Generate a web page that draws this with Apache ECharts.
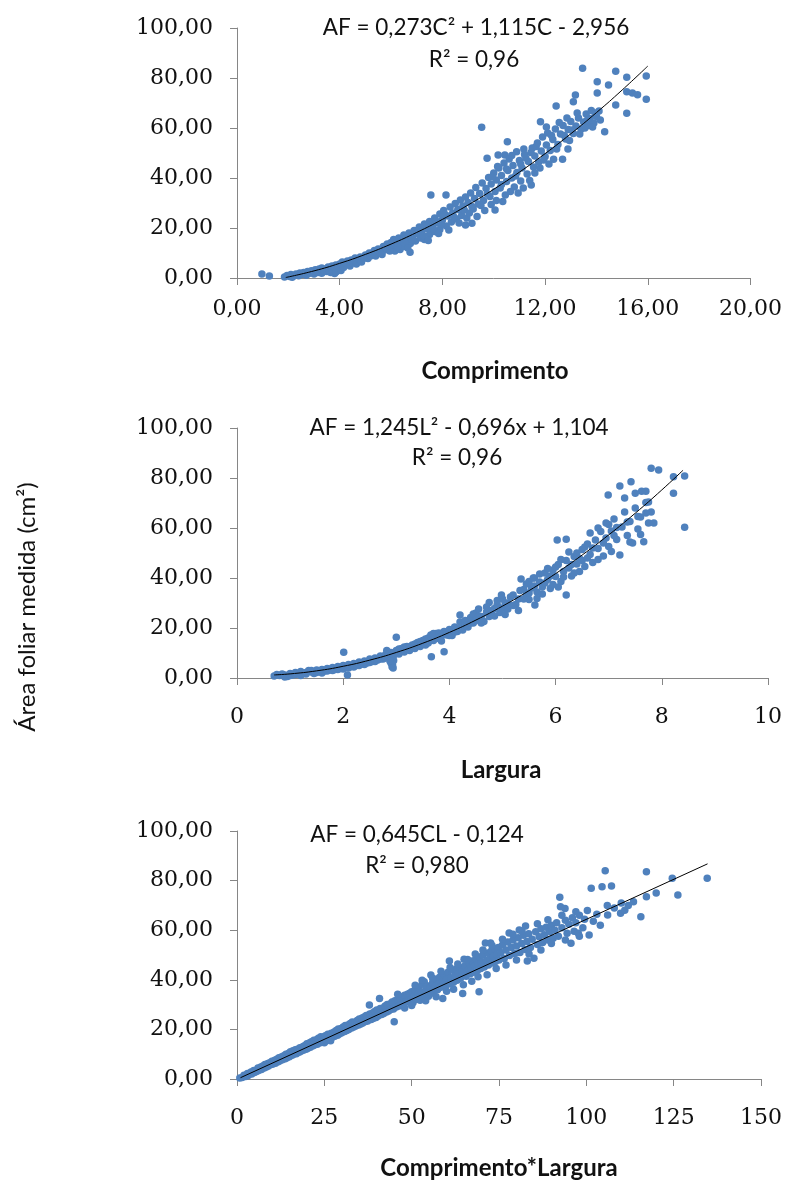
<!DOCTYPE html>
<html>
<head>
<meta charset="utf-8">
<script src="https://cdn.jsdelivr.net/npm/echarts@6/dist/echarts.min.js"></script>
<style>
html,body{margin:0;padding:0;background:#fff;}
#chart{width:785px;height:1182px;}
</style>
</head>
<body>
<div id="chart"></div>
<script>
// ---------- Data ----------
var yTicks = [0, 20, 40, 60, 80, 100];
var xTicks1 = [0, 4, 8, 12, 16, 20];
var xTicks2 = [0, 2, 4, 6, 8, 10];
var xTicks3 = [0, 25, 50, 75, 100, 125, 150];

var axisTitles = ['Comprimento', 'Largura', 'Comprimento*Largura'];
var yTitle = 'Área foliar medida (cm²)';
var equations = ['AF = 0,273C² + 1,115C - 2,956', 'AF = 1,245L² - 0,696x + 1,104', 'AF = 0,645CL - 0,124'];
var r2Labels = ['R² = 0,96', 'R² = 0,96', 'R² = 0,980'];

// Chart 1: Comprimento vs área foliar
var comprimentoPts = [
[0.97,1.6],[1.26,0.8],[1.85,0.4],[1.95,1.0],[2.05,0.6],[2.1,1.4],[2.2,0.8],[2.3,1.6],[2.35,1.1],[2.45,2.0],[2.5,1.4],[2.6,2.2],[2.65,1.6],[2.75,2.6],[2.8,1.9],[2.9,2.9],[2.95,2.3],[3.05,3.3],[3.1,2.5],[3.2,3.6],[3.25,2.8],[3.3,4.0],[3.35,3.1],[3.45,3.6],[3.5,2.6],[3.55,4.4],[3.6,3.2],[3.65,2.2],[3.7,4.8],[3.75,3.6],[3.8,1.8],[3.85,5.2],[3.9,4.2],[3.9,2.8],[3.95,3.4],[4.0,5.6],[4.05,4.6],[4.1,6.4],[4.2,5.2],[4.3,6.8],[4.35,5.8],[4.45,7.2],[4.55,6.4],[4.6,8.0],[4.7,7.0],[4.8,8.4],[4.9,7.6],[5.0,9.2],[5.05,8.6],[5.15,10.0],[5.25,9.2],[5.35,11.0],[5.45,9.8],[5.5,11.6],[5.6,10.6],[5.7,12.6],[5.75,11.2],[5.85,13.6],[5.9,12.2],[6.0,14.2],[6.05,12.8],[6.1,15.4],[6.15,10.8],[6.2,13.8],[6.3,16.0],[6.35,11.4],[6.4,14.6],[6.5,17.2],[6.5,12.6],[6.6,15.6],[6.7,18.0],[6.74,10.3],[6.75,13.8],[6.8,16.6],[6.9,19.0],[6.95,14.8],[7.0,17.8],[7.1,20.4],[7.15,16.0],[7.2,18.8],[7.3,21.6],[7.3,15.4],[7.4,19.8],[7.5,22.6],[7.5,17.4],[7.55,33.2],[7.6,20.6],[7.7,24.0],[7.7,18.6],[7.8,22.0],[7.9,25.6],[7.9,19.4],[8.0,23.2],[8.05,27.0],[8.14,33.2],[8.15,20.8],[8.2,24.8],[8.3,28.4],[8.35,22.4],[8.4,26.0],[8.5,29.8],[8.55,23.6],[8.6,27.4],[8.7,31.2],[8.75,25.0],[8.8,28.8],[8.9,32.4],[8.95,24.0],[9.0,30.2],[9.1,34.0],[9.15,21.9],[9.2,27.6],[9.25,31.8],[9.3,36.2],[9.4,29.6],[9.45,33.8],[9.53,60.3],[9.55,38.0],[9.6,31.0],[9.7,35.8],[9.74,47.9],[9.8,40.2],[9.85,32.6],[9.9,37.6],[10.0,42.0],[10.05,27.2],[10.05,34.6],[10.1,39.2],[10.17,49.2],[10.2,44.0],[10.25,36.0],[10.3,41.0],[10.4,46.0],[10.43,49.2],[10.45,33.2],[10.5,38.6],[10.53,54.5],[10.55,43.0],[10.6,47.6],[10.7,40.0],[10.75,45.0],[10.8,36.4],[10.89,50.5],[10.9,42.2],[11.0,47.0],[11.05,38.8],[11.1,44.0],[11.17,51.6],[11.2,49.4],[11.3,41.6],[11.35,46.6],[11.46,37.2],[11.5,52.0],[11.55,44.4],[11.6,48.8],[11.7,54.0],[11.75,46.4],[11.82,62.5],[11.85,50.8],[11.9,56.4],[12.0,48.6],[12.05,53.2],[12.1,58.0],[12.2,51.0],[12.3,55.4],[12.33,47.5],[12.4,59.6],[12.43,68.8],[12.5,53.4],[12.6,57.6],[12.68,47.5],[12.7,61.0],[12.8,55.6],[12.89,51.6],[12.9,59.4],[13.0,62.6],[13.1,70.5],[13.1,57.8],[13.18,73.2],[13.2,60.8],[13.3,64.0],[13.4,59.6],[13.46,83.9],[13.5,62.4],[13.6,65.6],[13.7,61.0],[13.75,63.8],[13.8,67.0],[13.9,62.0],[14.0,64.6],[14.03,78.5],[14.03,74.0],[14.1,66.8],[14.32,58.5],[14.47,77.2],[14.75,82.7],[14.75,69.2],[15.18,80.3],[15.18,74.5],[15.18,65.9],[15.4,74.0],[15.6,73.3],[15.94,80.8],[15.94,71.5],
[2.15,0.3],[2.4,0.9],[2.55,1.5],[2.7,1.1],[2.85,2.0],[3.0,1.6],[3.15,2.2],[3.3,1.9],[3.4,2.6],[3.5,3.4],[3.6,2.6],[3.7,3.0],[3.8,4.0],[3.85,2.4],[3.95,4.8],[4.05,3.0],[4.15,4.2],[4.25,6.0],[4.4,4.8],[4.5,6.0],[4.65,5.6],[4.75,7.6],[4.85,6.4],[4.95,8.4],[5.1,7.8],[5.2,8.8],[5.3,10.2],[5.4,8.8],[5.55,10.4],[5.65,9.4],[5.8,12.0],[5.95,10.8],[6.05,13.4],[6.25,12.4],[6.45,15.6],[6.55,14.0],[6.65,12.0],[6.85,15.4],[7.05,18.4],[7.25,17.0],[7.35,20.6],[7.45,15.0],[7.65,19.6],[7.75,22.8],[7.85,17.8],[7.95,21.6],[8.1,25.4],[8.25,19.2],[8.45,24.4],[8.65,22.0],[8.85,27.2],[8.9,21.2],[9.05,26.0],[9.15,28.6],[9.35,24.6],[9.5,29.0],[9.65,27.0],[9.75,33.6],[9.9,29.4],[9.95,40.6],[10.1,31.0],[10.15,44.6],[10.3,37.4],[10.35,30.6],[10.5,43.6],[10.65,34.6],[10.7,49.0],[10.85,40.8],[10.95,34.0],[11.05,45.6],[11.15,36.0],[11.25,48.0],[11.4,39.0],[11.45,50.2],[11.6,42.0],[11.65,52.6],[11.8,44.0],[11.95,47.2],[12.05,60.4],[12.15,45.6],[12.25,57.0],[12.45,51.6],[12.55,62.2],[12.75,57.0],[12.85,64.0],[12.95,55.0],[13.05,59.2],[13.25,66.0],[13.35,57.6],[13.55,60.0],[13.65,63.2],[13.85,60.4],[13.95,66.0],[14.15,63.2]
];
var trend1X = [1.9, 3, 4, 5, 6, 7, 8, 9, 10, 11, 12, 13, 14, 15, 16];
var trend1Y = [0.2, 2.85, 5.87, 9.44, 13.56, 18.23, 23.44, 29.19, 35.49, 42.34, 49.74, 57.68, 66.16, 75.19, 84.77];

// Chart 2: Largura vs área foliar
var larguraPts = [
[0.7,0.8],[0.8,1.0],[0.85,1.6],[0.9,1.2],[0.95,0.6],[1.0,1.8],[1.05,1.2],[1.1,2.2],[1.15,1.6],[1.2,2.6],[1.25,1.8],[1.3,2.2],[1.35,3.0],[1.4,2.4],[1.45,1.8],[1.5,3.2],[1.55,2.6],[1.6,3.4],[1.65,2.8],[1.7,3.8],[1.75,3.2],[1.8,4.2],[1.85,3.4],[1.9,4.6],[1.95,3.8],[2.01,10.3],[2.0,5.0],[2.05,4.2],[2.08,1.2],[2.1,5.4],[2.15,4.6],[2.2,5.8],[2.25,5.0],[2.3,6.4],[2.35,5.6],[2.4,6.8],[2.45,6.0],[2.5,7.6],[2.55,6.6],[2.6,8.0],[2.65,7.2],[2.7,8.8],[2.75,7.6],[2.8,9.4],[2.85,8.2],[2.9,10.2],[2.9,6.0],[2.92,4.5],[2.93,5.2],[2.95,9.0],[2.95,7.0],[3.0,16.3],[3.0,11.0],[3.05,9.6],[3.1,11.8],[3.15,10.4],[3.2,12.6],[3.25,11.0],[3.3,13.2],[3.35,11.8],[3.4,14.2],[3.45,12.6],[3.5,15.0],[3.55,13.2],[3.6,16.0],[3.6,14.0],[3.66,8.5],[3.65,17.2],[3.7,15.0],[3.75,17.8],[3.8,15.8],[3.85,16.8],[3.9,10.5],[3.9,18.6],[3.95,17.2],[4.0,19.4],[4.05,17.0],[4.1,20.4],[4.15,18.6],[4.2,22.4],[4.2,19.8],[4.25,21.2],[4.3,23.0],[4.35,20.4],[4.4,24.2],[4.45,22.0],[4.5,26.0],[4.5,23.0],[4.55,27.6],[4.6,24.6],[4.65,22.6],[4.7,26.4],[4.75,30.2],[4.8,27.0],[4.85,24.8],[4.9,29.4],[4.95,26.2],[5.0,31.6],[5.0,28.0],[5.05,25.4],[5.1,30.0],[5.2,33.2],[5.25,29.4],[5.3,31.6],[5.3,27.0],[5.4,35.4],[5.45,33.0],[5.5,38.6],[5.5,31.4],[5.55,36.0],[5.6,40.0],[5.61,29.2],[5.65,34.4],[5.7,38.4],[5.75,36.4],[5.8,42.0],[5.85,39.4],[5.9,35.8],[5.95,43.2],[6.03,55.2],[6.0,40.6],[6.05,45.4],[6.1,38.6],[6.15,42.6],[6.2,55.5],[6.2,33.2],[6.2,47.0],[6.25,44.0],[6.3,40.8],[6.35,48.6],[6.4,45.6],[6.45,42.6],[6.5,51.4],[6.5,47.0],[6.55,44.6],[6.6,53.6],[6.65,49.4],[6.7,46.2],[6.75,55.2],[6.8,51.8],[6.85,58.6],[6.9,48.8],[6.95,56.0],[6.99,73.2],[7.0,61.4],[7.0,52.6],[7.05,58.8],[7.1,63.6],[7.15,55.4],[7.21,76.8],[7.21,49.2],[7.25,60.4],[7.3,66.4],[7.35,57.0],[7.42,78.5],[7.4,62.6],[7.45,54.0],[7.5,68.0],[7.55,59.6],[7.62,74.7],[7.6,64.4],[7.66,54.5],[7.7,74.7],[7.7,70.2],[7.75,62.0],[7.8,83.9],[7.8,66.4],[7.94,83.2],[8.22,80.5],[8.22,73.9],[8.43,80.8],[8.43,60.3],
[0.75,1.4],[0.9,0.4],[1.0,1.0],[1.1,1.4],[1.2,1.0],[1.3,1.6],[1.4,3.0],[1.5,2.2],[1.6,2.0],[1.7,2.8],[1.8,3.0],[1.9,3.4],[2.0,3.6],[2.1,4.0],[2.2,4.4],[2.3,5.0],[2.4,5.4],[2.5,6.2],[2.6,6.6],[2.7,7.6],[2.8,8.0],[2.82,11.0],[2.88,6.8],[2.94,4.0],[3.05,11.6],[3.15,12.4],[3.25,12.4],[3.35,13.6],[3.45,14.6],[3.55,15.6],[3.65,15.0],[3.7,17.8],[3.8,18.0],[3.85,14.8],[4.0,17.0],[4.1,18.4],[4.2,25.2],[4.25,19.2],[4.3,21.0],[4.4,22.0],[4.45,25.6],[4.55,24.8],[4.6,22.0],[4.7,28.4],[4.75,24.6],[4.85,27.8],[4.9,31.0],[4.98,33.2],[5.05,30.0],[5.1,27.6],[5.15,32.4],[5.2,29.0],[5.33,35.0],[5.35,39.6],[5.4,31.6],[5.45,37.6],[5.5,34.0],[5.58,40.0],[5.6,36.8],[5.65,31.8],[5.7,41.6],[5.75,33.6],[5.8,38.0],[5.85,43.8],[5.9,40.8],[5.95,37.4],[6.0,44.4],[6.05,36.4],[6.1,47.4],[6.15,40.4],[6.25,50.4],[6.3,45.4],[6.35,42.0],[6.4,50.0],[6.45,47.8],[6.55,52.4],[6.6,48.0],[6.65,58.0],[6.7,52.0],[6.8,60.0],[6.8,47.4],[6.9,54.0],[6.95,62.0],[7.05,50.6],[7.1,57.0],[7.15,60.2],[7.3,72.0],[7.35,62.4],[7.4,54.4],[7.5,73.9],[7.55,64.6],[7.6,57.4],[7.7,66.0],[7.75,70.4],[7.85,62.0]
];
var trend2X = [0.7, 1, 1.5, 2, 2.5, 3, 3.5, 4, 4.5, 5, 5.5, 6, 6.5, 7, 7.5, 8, 8.4];
var trend2Y = [1.23, 1.65, 2.86, 4.69, 7.15, 10.22, 13.92, 18.24, 23.18, 28.75, 34.94, 41.75, 49.18, 57.24, 65.92, 75.22, 83.1];

// Chart 3: Comprimento*Largura vs área foliar
var clPts = [
[0.8,0.4],[1.5,0.6],[2,1.5],[2.5,1.0],[3,2.2],[3.2,1.4],[4,2.8],[4.2,2.0],[4.8,3.4],[5,2.6],[5.6,3.0],[6,4.4],[6.2,3.4],[6.8,4.8],[7,3.8],[7.4,5.2],[7.8,4.4],[8,5.8],[8.4,4.8],[8.8,6.2],[9,5.2],[9.4,6.6],[9.8,5.8],[10,7.2],[10.3,6.0],[10.8,7.6],[11,6.4],[11.4,8.0],[11.8,7.0],[12,8.6],[12.3,7.4],[12.8,9.0],[13,7.8],[13.4,9.4],[13.8,8.2],[14,10.0],[14.3,8.6],[14.8,10.4],[15,9.0],[15.3,11.0],[15.8,9.6],[16,11.4],[16.2,10.0],[16.7,11.8],[17,10.2],[17.3,12.0],[17.8,10.8],[18,12.6],[18.3,11.2],[18.8,13.0],[19,11.6],[19.3,13.4],[19.8,12.0],[20,14.2],[20.3,12.4],[20.8,14.6],[21,12.8],[21.3,15.0],[21.8,13.4],[22,15.6],[22.3,13.8],[22.8,15.8],[23,14.0],[23.3,16.4],[23.8,14.6],[24,17.0],[24.3,15.0],[24.8,16.8],[25,14.6],[25.3,17.4],[25.6,15.4],[26,18.0],[26.3,16.2],[26.8,15.4],[27,18.4],[27.3,16.8],
[27.8,19.0],[28,17.2],[28.4,19.6],[28.8,17.6],[29,20.2],[29.4,18.2],[29.8,20.4],[30,18.6],[30.4,21.0],[30.8,19.2],[31,21.6],[31.4,19.6],[31.8,21.8],[32,20.0],[32.4,22.4],[32.8,20.6],[33,23.0],[33.4,21.0],[33.8,22.8],[34,21.4],[34.4,23.6],[34.8,21.8],[35,24.2],[35.4,22.2],[35.8,24.6],[36,22.6],[36.4,25.0],[36.8,23.2],[37,25.6],[37.4,23.4],[37.9,29.8],[38,26.2],[38.4,24.0],[38.8,26.6],[39,24.4],[39.4,27.2],[39.8,24.8],[40,27.8],[40.4,25.4],[40.8,32.5],[41,28.4],[41.4,26.0],[41.8,28.6],[42,26.4],[42.4,29.4],[42.8,27.0],[43,30.0],[43.4,27.4],[43.8,30.2],[44,28.0],[44.4,31.0],[44.8,28.2],[45,23.1],[45.2,31.6],[45.6,29.0],[46,32.0],[46.4,29.4],[46.8,32.6],[47,30.0],[47.4,33.2],[47.8,30.4],[48,33.8],[48.4,31.0],[48.8,34.2],[49,31.4],[49.4,34.6],[49.8,32.0],
[50,35.2],[50.4,30.8],[50.8,33.6],[51,36.0],[51.4,32.2],[51.8,34.4],[52,37.0],[52.4,31.8],[52.8,35.0],[53,38.2],[53.6,39.2],[53.4,33.2],[54,35.8],[54.4,37.6],[54.8,33.4],[55.5,41.9],[55.2,36.6],[55.6,34.6],[56,38.8],[56.4,35.4],[56.8,37.4],[57,40.2],[57.4,36.0],[57.8,38.2],[58,41.0],[58.4,37.0],[58.9,32.5],[59,39.4],[59.4,42.0],[59.8,37.6],[60,40.0],[60.4,43.0],[60.8,47.6],[60.8,38.4],[61.2,40.8],[61.6,44.0],[62,39.0],[62.4,41.6],[62.8,44.4],[63,39.8],[63.4,42.4],[63.8,45.0],[64,40.6],[64.6,34.5],[64.4,43.2],[65,48.3],[65.2,45.6],[65.6,41.4],[66,43.8],[66.4,46.8],[66.8,42.4],[67,44.8],[67.4,47.6],[67.8,43.0],[68,45.6],[68.4,48.4],[68.8,43.8],[69.3,35.2],[69,46.4],[69.4,49.2],[69.8,44.6],[70,47.0],[70.4,50.0],[70.8,45.2],[71.1,54.8],[71.4,47.8],[71.8,50.8],[72.6,54.8],[72,46.0],[72.4,48.6],[72.8,51.6],[73,46.8],[73.4,49.4],[73.8,52.4],[74,47.4],[74.4,50.0],[74.8,53.0],
[75,48.0],[75.5,51.0],[76,54.0],[76.5,48.6],[77,52.0],[77.5,55.2],[77.9,58.9],[78,49.8],[78.5,53.0],[79,56.0],[79.5,50.6],[80,53.6],[80.5,57.0],[80.8,60.1],[81,51.0],[81.5,54.6],[82,58.0],[82.6,61.7],[82.5,52.2],[83,55.4],[83.1,47.6],[83.5,58.6],[84,53.0],[84.5,56.4],[85,48.7],[85.5,59.4],[86,54.2],[86.5,57.4],[87,60.6],[87.5,55.0],[88,58.2],[88.5,61.2],[89,56.0],[89.5,59.4],[90,62.0],[90.5,56.8],[91,60.0],[91.5,63.0],[92.4,73.3],[92.6,69.5],[92,57.6],[93,61.0],[93.9,68.8],[94,64.0],[94.5,58.8],[95,62.4],[95.6,54.7],[96,65.0],[96.5,59.6],[97,63.0],[97.7,58.8],[98,66.0],[99,61.0],[99.5,64.4],
[100.3,67.9],[100.8,58.1],[101.4,76.9],[102,63.6],[103,66.4],[104.5,77.5],[105.4,84.0],[106.1,66.1],[107.2,77.8],[108,69.0],[109.8,66.8],[112,70.0],[113.5,71.5],[115.6,65.4],[117.2,83.6],[117.2,73.5],[120,75.0],[124.6,80.9],[126.2,74.2],[134.6,80.9],[104,62.0],[106,70.0],[110,71.0],[111,68.0],
[46,34.2],[48,28.6],[50,29.6],[51,37.8],[53,39.8],[54,31.6],[56,40.6],[57,33.2],[58.4,43.4],[60,35.4],[61,45.0],[62,36.2],[63.2,46.4],[64.8,38.0],[66,48.2],[67.2,39.4],[68.2,50.4],[69,41.2],[70.4,52.0],[71.6,42.0],[73,53.8],[74.2,44.6],[76,56.4],[77,46.0],[79,58.4],[80,48.0],[81.6,59.6],[83.6,50.4],[86,62.6],[87,52.0],[89,64.2],[90,54.6],[93,66.0],[94,56.0],[97,67.4],[98,57.6]
];
var trend3X = [1, 134.7];
var trend3Y = [0.52, 86.76];

// ---------- Build chart ----------
function zip(xs, ys) { return xs.map(function (x, i) { return [x, ys[i]]; }); }
function fmt2(v) { return v.toFixed(2).replace('.', ','); }

var pointColor = '#4F81BD';
var axisColor = '#868686';
var tickFont = { fontFamily: 'DejaVu Serif', fontSize: 22, color: '#111' };
var sansFont = 'Lato';

var grids = [
  { left: 237, top: 28, width: 516, height: 250 },
  { left: 237, top: 428, width: 531, height: 250 },
  { left: 237, top: 831, width: 525, height: 248 }
];
var xTickSets = [xTicks1, xTicks2, xTicks3];
var xFormatters = [fmt2, function (v) { return String(v); }, function (v) { return String(v); }];
var xLabelMargins = [20, 28, 28];

var xAxes = [], yAxes = [];
for (var i = 0; i < 3; i++) {
  var xt = xTickSets[i];
  xAxes.push({
    type: 'value', gridIndex: i,
    min: xt[0], max: xt[xt.length - 1], interval: xt[1] - xt[0],
    axisLine: { show: true, onZero: false, lineStyle: { color: axisColor, width: 1 } },
    axisTick: { show: true, inside: false, length: 7, lineStyle: { color: axisColor } },
    splitLine: { show: false },
    axisLabel: Object.assign({ margin: xLabelMargins[i], formatter: xFormatters[i] }, tickFont)
  });
  yAxes.push({
    type: 'value', gridIndex: i,
    min: yTicks[0], max: yTicks[yTicks.length - 1], interval: yTicks[1] - yTicks[0],
    axisLine: { show: true, lineStyle: { color: axisColor, width: 1 } },
    axisTick: { show: true, inside: false, length: 7, lineStyle: { color: axisColor } },
    splitLine: { show: false },
    axisLabel: Object.assign({ margin: 24, formatter: fmt2 }, tickFont)
  });
}

var scatterSets = [comprimentoPts, larguraPts, clPts];
var trendSets = [zip(trend1X, trend1Y), zip(trend2X, trend2Y), zip(trend3X, trend3Y)];
var series = [];
for (var j = 0; j < 3; j++) {
  series.push({
    type: 'scatter', xAxisIndex: j, yAxisIndex: j,
    data: scatterSets[j], symbolSize: 7.5,
    itemStyle: { color: pointColor, opacity: 1 },
    silent: true, animation: false
  });
  series.push({
    type: 'line', xAxisIndex: j, yAxisIndex: j,
    data: trendSets[j], smooth: j < 2, showSymbol: false, symbol: 'none',
    lineStyle: { color: '#000', width: 1 },
    silent: true, animation: false, z: 5
  });
}

var eqPos = [[476, 28, 474, 60], [459, 428, 457, 458], [417, 835, 417, 866]];
var namePos = [[495, 371], [501, 770], [499, 1168]];
var graphics = [];
for (var k = 0; k < 3; k++) {
  graphics.push({ type: 'text', x: eqPos[k][0], y: eqPos[k][1],
    style: { text: equations[k], fontFamily: sansFont, fontSize: 22.5, fill: '#111', textAlign: 'center', textVerticalAlign: 'middle' } });
  graphics.push({ type: 'text', x: eqPos[k][2], y: eqPos[k][3],
    style: { text: r2Labels[k], fontFamily: sansFont, fontSize: 22.5, fill: '#111', textAlign: 'center', textVerticalAlign: 'middle' } });
  graphics.push({ type: 'text', x: namePos[k][0], y: namePos[k][1],
    style: { text: axisTitles[k], fontFamily: sansFont, fontWeight: 'bold', fontSize: 24, fill: '#111', textAlign: 'center', textVerticalAlign: 'middle' } });
}
graphics.push({ type: 'text', x: 27, y: 607, rotation: Math.PI / 2,
  style: { text: yTitle, fontFamily: sansFont, fontSize: 24, fill: '#111', textAlign: 'center', textVerticalAlign: 'middle' } });

var chart = echarts.init(document.getElementById('chart'), null, { renderer: 'canvas' });
chart.setOption({
  backgroundColor: '#fff',
  animation: false,
  grid: grids,
  xAxis: xAxes,
  yAxis: yAxes,
  series: series,
  graphic: graphics
});
</script>
</body>
</html>
